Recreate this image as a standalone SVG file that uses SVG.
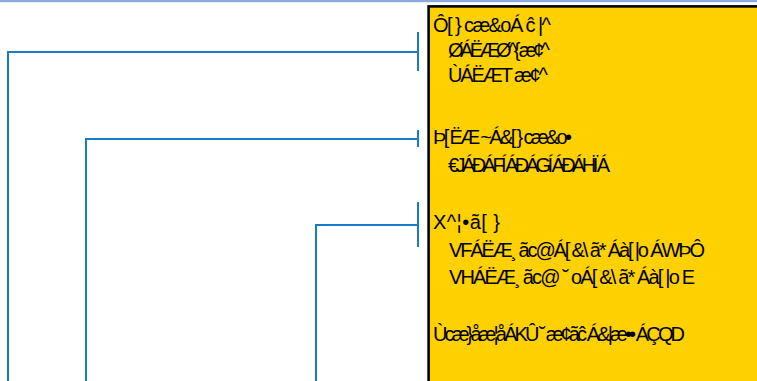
<svg xmlns="http://www.w3.org/2000/svg" width="757" height="381" viewBox="0 0 757 381">
<style>
.conn{fill:none;stroke:#1A7BC9;stroke-width:2}
.box{fill:#FFD100;stroke:#000;stroke-width:2.6}
.t{font-family:"Liberation Sans",Arial,sans-serif;font-size:20px;fill:#000}
</style>
<rect x="0" y="0" width="757" height="2.2" fill="#8EA9DB"/>
<g id="connectors">
<path class="conn" d="M8,381 V52 H418"/>
<path class="conn" d="M418,32 V71"/>
<path class="conn" d="M86,381 V139 H418"/>
<path class="conn" d="M418,130 V147"/>
<path class="conn" d="M316,381 V225 H418"/>
<path class="conn" d="M418,202 V247"/>
</g>
<g id="legend">
<rect class="box" x="428.6" y="6.4" width="400" height="400"/>
<text class="t" x="433" y="32" textLength="118" lengthAdjust="spacing">Ô[ } cæ&amp;oÁ ĉ |^</text>
<text class="t" x="448" y="57" textLength="102" lengthAdjust="spacing">ØÁËÆØ^{ æ¢^</text>
<text class="t" x="448" y="82" textLength="100" lengthAdjust="spacing">ÙÁËÆT æ¢^</text>
<text class="t" x="433" y="144" textLength="139" lengthAdjust="spacing">Þ[ ËÆ ~Á&amp;[ } cæ&amp;o•</text>
<text class="t" x="448" y="172" textLength="162" lengthAdjust="spacing">€JÁÐÁFÍ ÁÐÁGÍ ÁÐÁHÏ Á</text>
<text class="t" x="433" y="229" textLength="67" lengthAdjust="spacing">X^¦•ã[ }</text>
<text class="t" x="449" y="257" textLength="256" lengthAdjust="spacing">VFÁËÆ¸ ãc@Á[ &amp;\ ã* Áà[ |o ÁWÞÔ</text>
<text class="t" x="449" y="284" textLength="246" lengthAdjust="spacing">VHÁËÆ¸ ãc@ ˘ oÁ[ &amp;\ ã* Áà[ |o E</text>
<text class="t" x="433" y="341" textLength="252" lengthAdjust="spacing">Ùcæ}åæ¦åÁKÛ ˘ æ¢ãĉ Á&amp;|æ•• ÁÇQD</text>
</g>
</svg>
